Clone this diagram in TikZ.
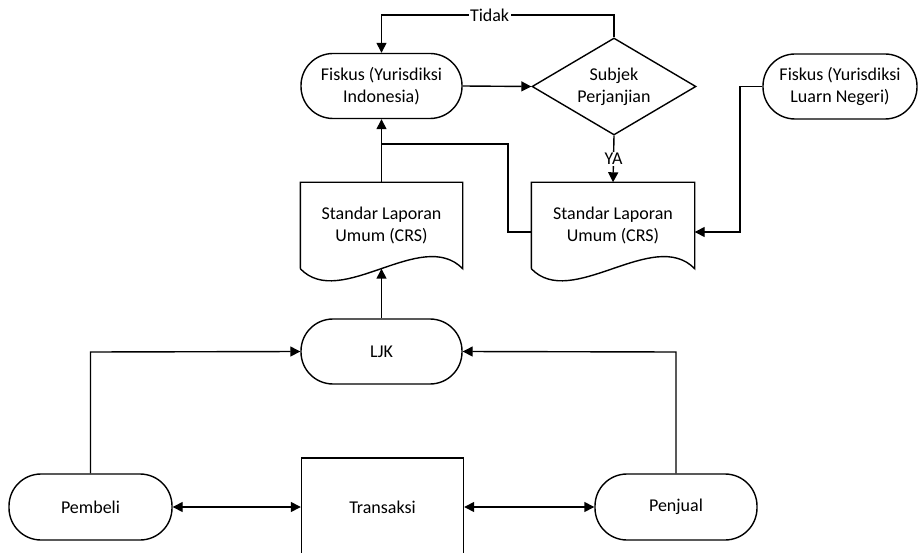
\documentclass[tikz,border=0pt]{standalone}
\usepackage{fontspec}
\setmainfont{Carlito}
\usetikzlibrary{arrows.meta,shapes.geometric}
\begin{document}
\begin{tikzpicture}[x=1pt,y=-1pt,
  line width=1.4pt,
  every node/.style={font=\fontsize{18}{22}\selectfont, align=center},
  term/.style={draw, rounded corners=32pt, minimum width=161pt, minimum height=65pt, inner sep=0pt},
  docbox/.style={minimum width=161pt, minimum height=85pt, inner sep=0pt},
  dec/.style={draw, diamond, minimum width=164pt, minimum height=97pt, inner sep=0pt, shape aspect=1.69},
  proc/.style={draw, rectangle, minimum width=162pt, minimum height=98pt, inner sep=0pt},
  lbl/.style={fill=white, inner sep=1.5pt},
  arr/.style={-{Triangle[length=10pt,width=10pt]}},
  darr/.style={{Triangle[length=10pt,width=10pt]}-{Triangle[length=10pt,width=10pt]}}
]
\useasboundingbox (0,0) rectangle (918,553);
\clip (0,0) rectangle (918,553);

\node[term] (fi) at (381.5,86) {Fiskus (Yurisdiksi\\Indonesia)};
\node[dec] (sp) at (614,86.5) {};
\node (spt) at (sp) {Subjek\\Perjanjian};
\node[term, minimum width=154pt] (fl) at (840,86.5) {Fiskus (Yurisdiksi\\Luarn Negeri)};

\node[docbox] (doc1) at (381.5,225.5) {Standar Laporan\\Umum (CRS)};
\node[docbox, minimum width=162pt] (doc2) at (613,225.5) {Standar Laporan\\Umum (CRS)};
\foreach \d in {doc1,doc2}{
  \draw (\d.south west) -- (\d.north west) -- (\d.north east) -- (\d.south east)
    .. controls +(-41,-42) and +(40,42) .. (\d.south west);
}

\node[term] (ljk) at (381.5,351.5) {LJK};
\node[term, minimum width=163pt, minimum height=66pt] (pb) at (90.5,507) {Pembeli};
\node[proc] (tr) at (382.5,507) {Transaksi};
\node[term, minimum width=162pt, minimum height=66pt] (pj) at (676,507) {Penjual};

\coordinate (t1) at (614,15);
\coordinate (t2) at (381.5,15);
\draw[arr] (sp.north) -- (t1) -- node[lbl, pos=0.535] {Tidak} (t2) -- (fi.north);
\draw[arr] (fi.east) -- (sp.west);
\draw[arr] (sp.south) -- node[lbl, pos=0.5] {YA} (doc2.north);
\draw[arr] (doc1.north) -- (fi.south);
\coordinate (j1) at (508,144);
\draw ([yshift=-6.5pt]doc2.west) -| (j1) -- (j1 -| fi.south);
\coordinate (k1) at (740,232);
\draw[arr] (fl.west) -| (k1) -- ([yshift=-6.5pt]doc2.east);
\draw[arr] (ljk.north) -- (doc1.south);
\coordinate (p1) at (90.5,352);
\coordinate (p2) at (676,352);
\draw[arr] (pb.north) -- (p1) -- (ljk.west);
\draw[arr] (pj.north) -- (p2) -- (ljk.east);
\draw[darr] (pb.east) -- (tr.west);
\draw[darr] (tr.east) -- (pj.west);
\end{tikzpicture}
\end{document}
